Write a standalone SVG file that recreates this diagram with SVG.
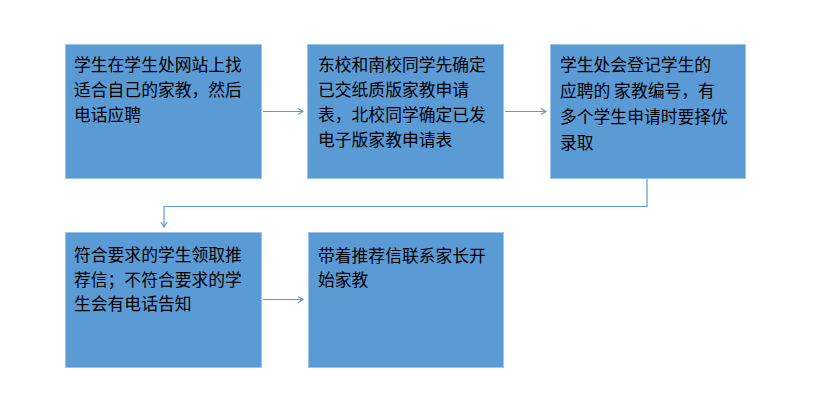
<svg xmlns="http://www.w3.org/2000/svg" width="835" height="409" viewBox="0 0 835 409">
<style>
.box{fill:#5b9bd5;stroke:#9cc3e8;stroke-width:1}
.t{font-family:"Noto Sans CJK SC","Liberation Sans",sans-serif;font-size:16.8px;fill:#000}
.c{fill:none;stroke:#5b9bd5;stroke-width:1.2}
</style>
<defs>
<marker id="ah" markerWidth="8" markerHeight="8" refX="6" refY="4" orient="auto" markerUnits="userSpaceOnUse">
<path d="M1,1 L6,4 L1,7" fill="none" stroke="#5b9bd5" stroke-width="1.2"/>
</marker>
</defs>
<rect width="835" height="409" fill="#fff"/>
<g id="connectors">
<line class="c" x1="263" y1="111.5" x2="303" y2="111.5" marker-end="url(#ah)"/>
<line class="c" x1="505" y1="111.5" x2="546" y2="111.5" marker-end="url(#ah)"/>
<polyline class="c" points="647,179 647,206.5 164,206.5 164,227" marker-end="url(#ah)"/>
<line class="c" x1="263" y1="299.5" x2="303" y2="299.5" marker-end="url(#ah)"/>
</g>
<g id="n1">
<rect class="box" x="65.5" y="44.5" width="196" height="134"/>
<text class="t" x="74" y="71">学生在学生处网站上找</text>
<text class="t" x="74" y="96">适合自己的家教，然后</text>
<text class="t" x="74" y="121">电话应聘</text>
</g>
<g id="n2">
<rect class="box" x="307.5" y="44.5" width="196" height="134"/>
<text class="t" x="318" y="71">东校和南校同学先确定</text>
<text class="t" x="318" y="96">已交纸质版家教申请</text>
<text class="t" x="318" y="121">表，北校同学确定已发</text>
<text class="t" x="318" y="146">电子版家教申请表</text>
</g>
<g id="n3">
<rect class="box" x="550.5" y="44.5" width="195" height="134"/>
<text class="t" x="560" y="71">学生处会登记学生的</text>
<text class="t" x="560" y="97">应聘的 家教编号，有</text>
<text class="t" x="560" y="123">多个学生申请时要择优</text>
<text class="t" x="560" y="149">录取</text>
</g>
<g id="n4">
<rect class="box" x="65.5" y="232.5" width="196" height="135"/>
<text class="t" x="74" y="261">符合要求的学生领取推</text>
<text class="t" x="74" y="286">荐信；不符合要求的学</text>
<text class="t" x="74" y="310">生会有电话告知</text>
</g>
<g id="n5">
<rect class="box" x="308.5" y="232.5" width="195" height="135"/>
<text class="t" x="318" y="262">带着推荐信联系家长开</text>
<text class="t" x="318" y="286">始家教</text>
</g>
</svg>
